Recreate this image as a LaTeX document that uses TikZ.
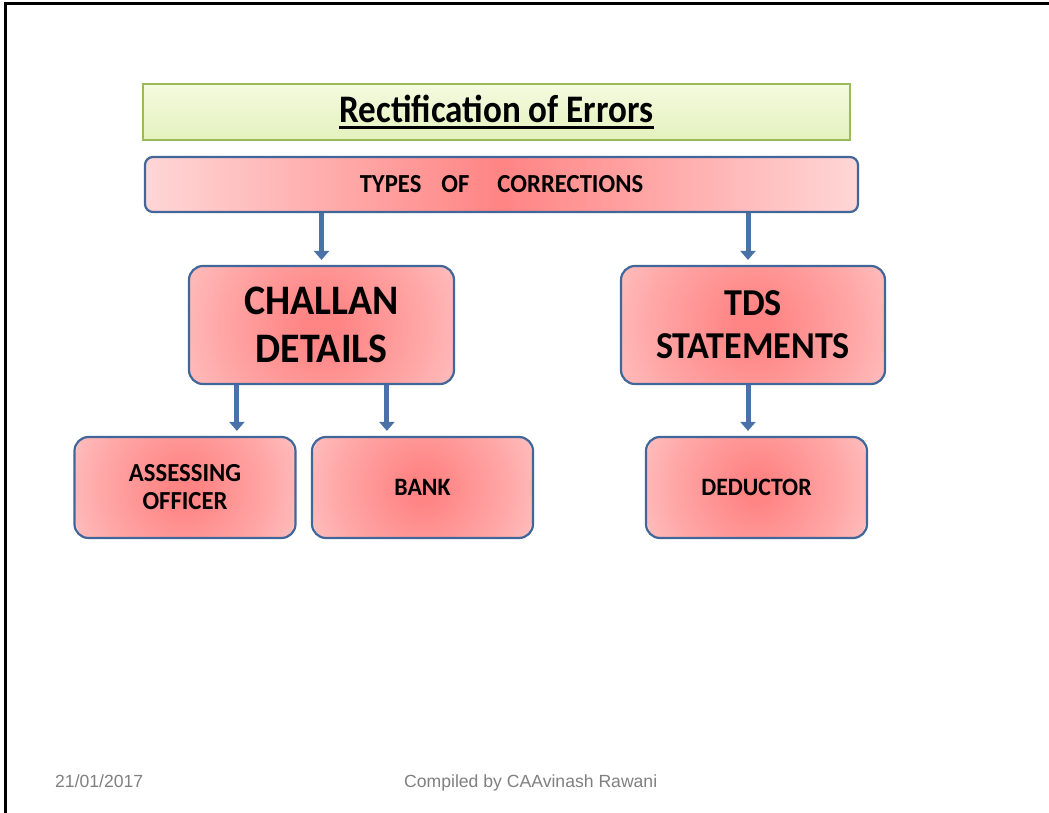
\documentclass[tikz,border=0pt]{standalone}
\usepackage{fontspec}
\usetikzlibrary{arrows.meta}
\newfontfamily\boxfont[FakeStretch=0.95]{Carlito}
\newfontfamily\titlefont[FakeStretch=0.9]{Carlito}
\newfontfamily\footfont{Liberation Sans}
\definecolor{boxline}{HTML}{41679A}
\definecolor{redcore}{HTML}{FF8484}
\definecolor{rededge}{HTML}{FFD6D6}
\definecolor{arrowblue}{HTML}{4A72A6}
\definecolor{titleline}{HTML}{9BBB59}
\definecolor{titletop}{HTML}{F4FADF}
\definecolor{titlebot}{HTML}{E4F2BE}
\definecolor{footgray}{HTML}{808080}
% round red glow; 35.35bp is the rim of the shaded circle
\pgfdeclareradialshading{boxglow}{\pgfpoint{0bp}{0bp}}{%
  color(0bp)=(redcore);
  color(3bp)=(redcore);
  color(18bp)=(redcore!58!rededge);
  color(35.35bp)=(rededge);
  color(50bp)=(rededge)}
\tikzset{
  glow radius/.initial=115pt,
  catbox/.style={draw=boxline, line width=2.2pt, rounded corners=14pt,
    fill=rededge, align=center, font=\boxfont\bfseries,
    path picture={\shade[shading=boxglow] (path picture bounding box.center)
      circle[radius=\pgfkeysvalueof{/tikz/glow radius}];}},
  leafbox/.style={catbox, minimum width=221pt, minimum height=101pt},
  flowarrow/.style={draw=arrowblue, line width=5pt,
    -{Triangle[width=15pt,length=9pt]}, shorten >=5pt},
  foottext/.style={font=\footfont\fontsize{17.6}{20}\selectfont,
    text=footgray, inner sep=0pt, anchor=base west}
}
\begin{document}
\begin{tikzpicture}[x=1pt,y=-1pt]
\useasboundingbox (0,0) rectangle (1049,813);
\fill[white] (0,0) rectangle (1049,813);

% slide frame
\draw[line width=3pt] (5,813) -- (5,4) -- (1049,4);

% heading
\node[draw=titleline, line width=1.5pt, top color=titletop, bottom color=titlebot,
      minimum width=707pt, minimum height=56pt] (headbox) at (496.5,112) {};
\node[font=\titlefont\bfseries\fontsize{39}{44}\selectfont, inner sep=0pt,
      anchor=base] (headtext) at (496.5,123) {Rectification of Errors};
\draw[line width=3pt] ([yshift=-4.5pt]headtext.base west) -- ([yshift=-4.5pt]headtext.base east);

% top bar
\node[draw=boxline, line width=2.2pt, rounded corners=8pt,
      left color=rededge, right color=rededge, middle color=redcore,
      minimum width=713pt, minimum height=55pt,
      font=\boxfont\bfseries\fontsize{26}{30}\selectfont] (types) at (501.5,184.5)
      {TYPES\hspace{20pt}OF\hspace{28pt}CORRECTIONS};

% categories
\node[catbox, glow radius=140pt, minimum width=265pt, minimum height=118pt,
      font=\boxfont\bfseries\fontsize{42}{48}\selectfont] (challan) at (321.5,325)
      {CHALLAN\\DETAILS};
\node[catbox, glow radius=140pt, minimum width=264pt, minimum height=118pt,
      font=\boxfont\bfseries\fontsize{38}{43}\selectfont] (tds) at (753,325)
      {TDS\\STATEMENTS};

% leaves
\node[leafbox, font=\boxfont\bfseries\fontsize{26}{28}\selectfont] (ao) at (185,487.5)
      {ASSESSING\\OFFICER};
\node[leafbox, font=\boxfont\bfseries\fontsize{25}{28}\selectfont] (bank) at (422.5,487.5)
      {BANK};
\node[leafbox, font=\boxfont\bfseries\fontsize{25}{28}\selectfont] (deductor) at (756.5,487.5)
      {DEDUCTOR};

% connectors
\draw[flowarrow] (types.south -| challan.north) -- (challan.north);
\draw[flowarrow] ([xshift=-5pt]types.south -| tds.north) -- ([xshift=-5pt]tds.north);
\draw[flowarrow] ([xshift=49pt]challan.south west) -- ([xshift=49pt]challan.south west |- ao.north);
\draw[flowarrow] ([xshift=199pt]challan.south west) -- ([xshift=199pt]challan.south west |- bank.north);
\draw[flowarrow] ([xshift=-5pt]tds.south) -- ([xshift=-5pt]tds.south |- deductor.north);

% footer
\node[foottext] (date) at (55,787) {21/01/2017};
\node[foottext] (credit) at (404,787) {Compiled by CAAvinash Rawani};
\end{tikzpicture}
\end{document}
